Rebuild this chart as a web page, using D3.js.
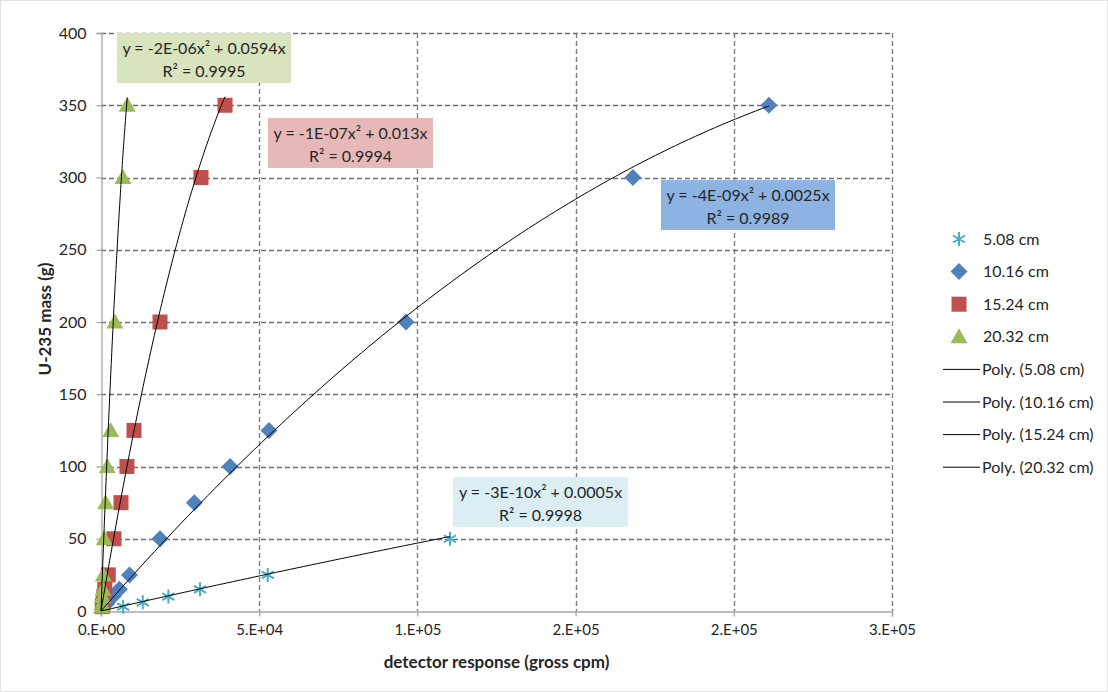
<!DOCTYPE html>
<html>
<head>
<meta charset="utf-8">
<script src="https://cdn.jsdelivr.net/npm/d3@7"></script>
<style>
  html, body { margin: 0; padding: 0; background: #ffffff; }
  svg { display: block; }
  text { font-family: Lato, "Open Sans", sans-serif; fill: #262626; }
</style>
</head>
<body>
<svg id="chart" width="1108" height="692"></svg>
<script>
// Detector response (gross cpm) versus U-235 mass at four source distances
const x508 = [7000, 13200, 21300, 31300, 52700, 110300];
const y508 = [3, 6, 10, 15, 25, 50];

const x1016 = [1800, 3800, 5800, 9000, 18650, 29500, 40800, 53100, 96400, 168100, 211100];
const y1016 = [5, 10, 15, 25, 50, 75, 100, 125, 200, 300, 350];

const x1524 = [400, 600, 900, 1200, 2300, 4100, 6320, 8200, 10430, 18650, 31600, 39200];
const y1524 = [3, 5, 10, 15, 25, 50, 75, 100, 125, 200, 300, 350];

const x2032 = [200, 300, 450, 600, 730, 1050, 1480, 2000, 3060, 4420, 6950, 8300];
const y2032 = [3, 5, 10, 15, 25, 50, 75, 100, 125, 200, 300, 350];

// Quadratic trendlines through the origin: y = a*x^2 + b*x
const trendA = [-3e-10, -4e-9, -1e-7, -2e-6];
const trendB = [0.0005, 0.0025, 0.013, 0.0594];
const trendR2 = ["0.9998", "0.9989", "0.9994", "0.9995"];
const trendLabels = ["y = -3E-10x² + 0.0005x", "y = -4E-09x² + 0.0025x", "y = -1E-07x² + 0.013x", "y = -2E-06x² + 0.0594x"];

const seriesNames = ["5.08 cm", "10.16 cm", "15.24 cm", "20.32 cm"];
const polyNames = ["Poly. (5.08 cm)", "Poly. (10.16 cm)", "Poly. (15.24 cm)", "Poly. (20.32 cm)"];

const xTicks = [0, 50000, 100000, 150000, 200000, 250000];
const xTickLabels = ["0.E+00", "5.E+04", "1.E+05", "2.E+05", "2.E+05", "3.E+05"];
const yTicks = [0, 50, 100, 150, 200, 250, 300, 350, 400];

const colors = ["#4bacc6", "#4f81bd", "#c0504d", "#9bbb59"];
const boxFills = ["#dbeef4", "#8db3e2", "#e6b9b8", "#d7e4bd"];

const svg = d3.select("#chart");
const W = 1108, H = 692;
const plot = { left: 101, right: 892, top: 33, bottom: 611 };

const x = d3.scaleLinear().domain([0, 250000]).range([plot.left, plot.right]);
const y = d3.scaleLinear().domain([0, 400]).range([plot.bottom, plot.top]);

// chart area frame
svg.append("rect")
  .attr("x", 0.5).attr("y", 0.5).attr("width", W - 1).attr("height", H - 1)
  .attr("fill", "#ffffff").attr("stroke", "#e3e3e3");

// gridlines
const grid = svg.append("g");
grid.selectAll("line.h").data(yTicks.filter(d => d > 0)).join("line")
  .attr("x1", plot.left).attr("x2", plot.right)
  .attr("y1", d => Math.round(y(d)) + 0.5).attr("y2", d => Math.round(y(d)) + 0.5)
  .attr("stroke", "#6f6f6f").attr("stroke-width", 1.4).attr("stroke-dasharray", "5,3");
grid.selectAll("line.v").data(xTicks.filter(d => d > 0)).join("line")
  .attr("y1", plot.top).attr("y2", plot.bottom)
  .attr("x1", d => Math.round(x(d)) + 0.5).attr("x2", d => Math.round(x(d)) + 0.5)
  .attr("stroke", "#7f7f7f").attr("stroke-width", 1.4).attr("stroke-dasharray", "5,3");

// axes
const xAxis = d3.axisBottom(x).tickValues(xTicks).tickSize(5).tickPadding(8)
  .tickFormat((d, i) => xTickLabels[i]);
const gx = svg.append("g").attr("transform", `translate(0,${plot.bottom + 0.5})`).call(xAxis);
gx.select(".domain").attr("stroke", "#a6a6a6").attr("stroke-width", 1.3);
gx.selectAll(".tick line").attr("stroke", "#a6a6a6").attr("stroke-width", 1.3);
gx.selectAll(".tick text").attr("font-size", 15).attr("fill", "#262626")
  .attr("font-family", "Lato, sans-serif");

const yAxis = d3.axisLeft(y).tickValues(yTicks).tickSize(5).tickPadding(10);
const gy = svg.append("g").attr("transform", `translate(${plot.left + 0.5},0)`).call(yAxis);
gy.select(".domain").attr("stroke", "#a6a6a6").attr("stroke-width", 1.3);
gy.selectAll(".tick line").attr("stroke", "#a6a6a6").attr("stroke-width", 1.3);
gy.selectAll(".tick text").attr("font-size", 16).attr("fill", "#262626")
  .attr("font-family", "Lato, sans-serif");

// axis titles
svg.append("text").attr("x", (plot.left + plot.right) / 2).attr("y", 668)
  .attr("text-anchor", "middle").attr("font-size", 17).attr("font-weight", "bold")
  .text("detector response (gross cpm)");
svg.append("text").attr("transform", `translate(51,${(plot.top + plot.bottom) / 2 - 3}) rotate(-90)`)
  .attr("text-anchor", "middle").attr("font-size", 17).attr("font-weight", "bold")
  .text("U-235 mass (g)");

// marker shapes
function drawMarker(g, kind, color) {
  if (kind === 0) {
    const s = 7;
    g.append("path")
      .attr("d", `M0,${-s}V${s}M${-s * 0.87},${-s * 0.5}L${s * 0.87},${s * 0.5}M${-s * 0.87},${s * 0.5}L${s * 0.87},${-s * 0.5}`)
      .attr("stroke", color).attr("stroke-width", 2).attr("fill", "none");
  } else if (kind === 1) {
    g.append("path").attr("d", "M0,-8.5L8.5,0L0,8.5L-8.5,0Z").attr("fill", color);
  } else if (kind === 2) {
    g.append("rect").attr("x", -7.5).attr("y", -7.5).attr("width", 15).attr("height", 15).attr("fill", color);
  } else {
    g.append("path").attr("d", "M0,-8.5L8.5,6.5L-8.5,6.5Z").attr("fill", color);
  }
}

const xs = [x508, x1016, x1524, x2032];
const ys = [y508, y1016, y1524, y2032];

// data markers
xs.forEach((xv, si) => {
  const g = svg.append("g");
  xv.forEach((xx, i) => {
    const m = g.append("g").attr("transform", `translate(${x(xx)},${y(ys[si][i])})`);
    drawMarker(m, si, colors[si]);
  });
});

// trendlines
xs.forEach((xv, si) => {
  const xmax = d3.max(xv);
  const pts = d3.range(0, 101).map(k => {
    const xx = xmax * k / 100;
    return [xx, trendA[si] * xx * xx + trendB[si] * xx];
  });
  svg.append("path")
    .attr("d", d3.line().x(d => x(d[0])).y(d => y(d[1]))(pts))
    .attr("fill", "none").attr("stroke", "#000000").attr("stroke-width", 1);
});

// equation boxes
const boxes = [
  { x: 453, y: 477, w: 175, h: 50 },
  { x: 661, y: 180, w: 174, h: 50 },
  { x: 268, y: 118, w: 165, h: 50 },
  { x: 117, y: 33, w: 174, h: 50 }
];
boxes.forEach((b, si) => {
  const g = svg.append("g");
  g.append("rect").attr("x", b.x).attr("y", b.y).attr("width", b.w).attr("height", b.h)
    .attr("fill", boxFills[si]);
  g.append("text").attr("x", b.x + b.w / 2).attr("y", b.y + 21)
    .attr("text-anchor", "middle").attr("font-size", 16).text(trendLabels[si]);
  g.append("text").attr("x", b.x + b.w / 2).attr("y", b.y + 44)
    .attr("text-anchor", "middle").attr("font-size", 16).text("R² = " + trendR2[si]);
});

// legend
const legend = svg.append("g");
const rowY = d3.range(8).map(i => 239 + i * 32.6);
seriesNames.forEach((name, i) => {
  const m = legend.append("g").attr("transform", `translate(959,${rowY[i]})`);
  drawMarker(m, i, colors[i]);
  legend.append("text").attr("x", 983).attr("y", rowY[i] + 5.5).attr("font-size", 16).text(name);
});
polyNames.forEach((name, i) => {
  const yy = rowY[4 + i];
  legend.append("line").attr("x1", 943).attr("x2", 980).attr("y1", yy).attr("y2", yy)
    .attr("stroke", "#000").attr("stroke-width", 1);
  legend.append("text").attr("x", 982).attr("y", yy + 5.5).attr("font-size", 16).text(name);
});
</script>
</body>
</html>
